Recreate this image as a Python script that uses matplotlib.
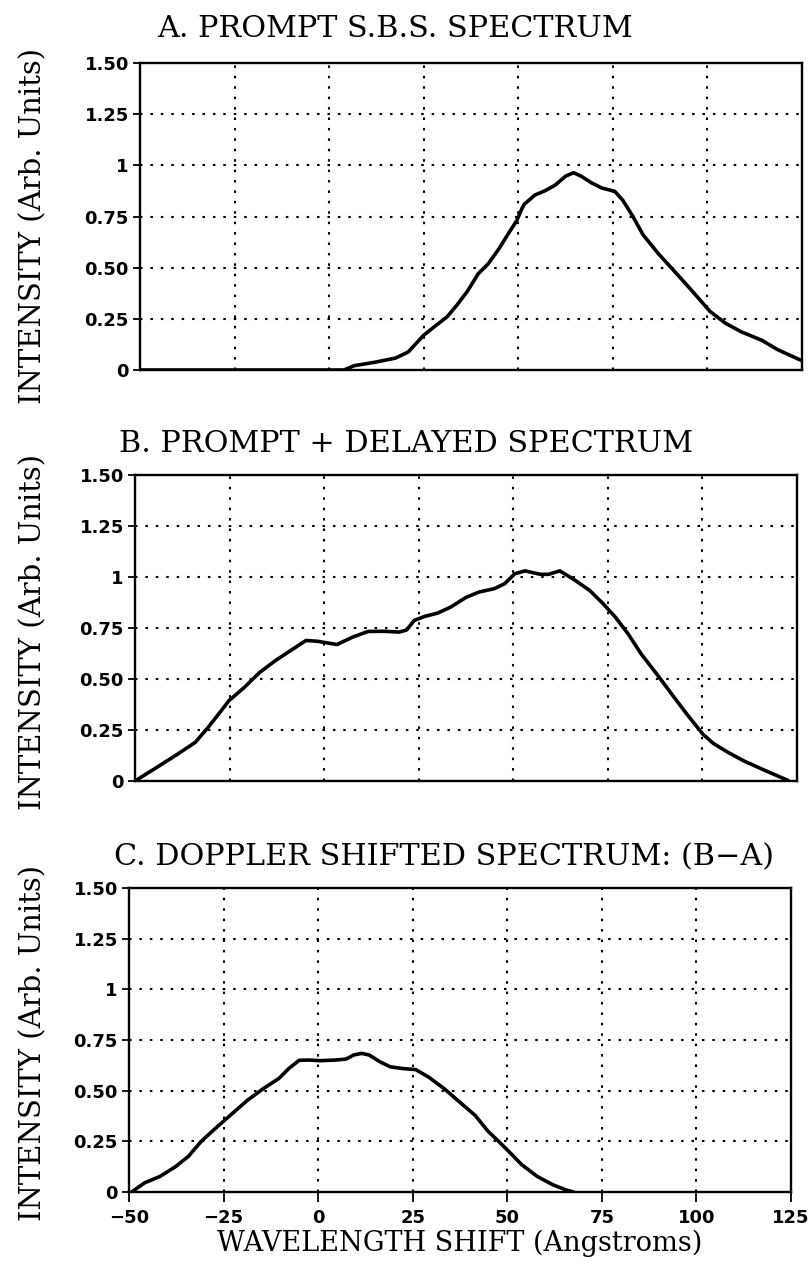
import matplotlib
matplotlib.use("Agg")
import matplotlib.pyplot as plt
from matplotlib.ticker import FixedLocator, FixedFormatter

# ---- data ----
x_a = [-50, -20, 0, 3.9, 6.6, 12.1, 17.5, 20.9, 23.0, 25.0, 28.4, 31.2, 33.9, 36.6, 39.4,
       42.1, 44.8, 47.5, 49.6, 51.0, 51.6, 54.4, 57.1, 59.8, 62.5, 64.6, 66.6, 69.4,
       72.1, 75.5, 77.6, 80.3, 83.0, 87.1, 91.2, 95.3, 100.7, 104.8, 108.9, 114.4,
       118.5, 125]
y_a = [0.0, 0.0, 0.0, 0.0, 0.021, 0.038, 0.058, 0.088, 0.13, 0.17, 0.22, 0.26, 0.32, 0.386,
       0.47, 0.52, 0.59, 0.67, 0.73, 0.79, 0.81, 0.855, 0.876, 0.904, 0.947, 0.964,
       0.947, 0.914, 0.889, 0.873, 0.83, 0.75, 0.66, 0.567, 0.484, 0.40, 0.286, 0.228,
       0.187, 0.145, 0.10, 0.045]

x_b = [-50, -44.3, -38.8, -34.1, -30.7, -27.9, -25.2, -21.1, -17.0, -12.9, -8.9, -4.8,
       -1.8, 3.4, 7.5, 11.6, 15.7, 19.8, 21.8, 23.8, 26.6, 30.0, 33.4, 37.5, 40.9, 45.0,
       47.7, 50.4, 53.1, 57.2, 59.3, 62.3, 66.1, 70.2, 73.6, 77.0, 80.4, 83.8, 87.9,
       92.0, 96.0, 100.1, 102.9, 106.9, 111.0, 116.5, 122.6]
y_b = [0.0, 0.066, 0.131, 0.189, 0.262, 0.328, 0.393, 0.459, 0.533, 0.590, 0.639, 0.689,
       0.685, 0.669, 0.705, 0.733, 0.734, 0.73, 0.74, 0.787, 0.807, 0.823, 0.852, 0.90,
       0.926, 0.943, 0.967, 1.016, 1.03, 1.013, 1.013, 1.03, 0.987, 0.934, 0.872, 0.803,
       0.72, 0.623, 0.525, 0.423, 0.325, 0.23, 0.184, 0.139, 0.098, 0.052, 0.003]

x_c = [-49.3, -45.9, -41.8, -37.7, -34.3, -30.9, -26.8, -22.7, -18.6, -14.5, -10.4, -7.7,
       -5.0, -2.2, 0.5, 4.6, 7.4, 9.4, 11.5, 13.5, 16.3, 19.0, 22.4, 25.8, 29.2, 33.3,
       37.4, 41.5, 44.9, 47.7, 50.4, 53.8, 57.9, 62.0, 65.4, 67.5]
y_c = [0.0, 0.045, 0.077, 0.125, 0.176, 0.25, 0.32, 0.387, 0.454, 0.51, 0.56, 0.61, 0.65,
       0.651, 0.648, 0.651, 0.656, 0.676, 0.684, 0.676, 0.643, 0.618, 0.609, 0.604,
       0.567, 0.51, 0.444, 0.378, 0.30, 0.25, 0.2, 0.135, 0.077, 0.036, 0.011, 0.0]

titles = ["A. PROMPT S.B.S. SPECTRUM",
          "B. PROMPT + DELAYED SPECTRUM",
          "C. DOPPLER SHIFTED SPECTRUM: (B\u2212A)"]
y_ticks = [0, 0.25, 0.5, 0.75, 1.0, 1.25, 1.5]
y_tick_labels = ["0", "0.25", "0.50", "0.75", "1", "1.25", "1.50"]
x_ticks = [-50, -25, 0, 25, 50, 75, 100, 125]
x_tick_labels = ["\u221250", "\u221225", "0", "25", "50", "75", "100", "125"]
y_label = "INTENSITY (Arb. Units)"
x_label = "WAVELENGTH SHIFT (Angstroms)"

W, H = 811, 1264
fig = plt.figure(figsize=(W / 100, H / 100), dpi=100)

# axes rectangles in pixels: left, top(1.5), right, bottom(0)
rects = [(140, 63, 802, 370), (135, 475, 797, 781), (129, 888, 791, 1192)]
title_pos = [(157, 37), (119, 452), (114, 865)]
ylab_pos = [(33, 226), (33, 632), (33, 1043)]
series = [(x_a, y_a), (x_b, y_b), (x_c, y_c)]

serif = "DejaVu Serif"
for i, ((l, t, r, b), (xs, ys)) in enumerate(zip(rects, series)):
    ax = fig.add_axes([l / W, 1 - b / H, (r - l) / W, (b - t) / H])
    ax.plot(xs, ys, color="black", lw=2.6, solid_capstyle="round", solid_joinstyle="round")
    ax.set_xlim(-50, 125)
    ax.set_ylim(0, 1.5)
    ax.yaxis.set_major_locator(FixedLocator(y_ticks))
    ax.yaxis.set_major_formatter(FixedFormatter(y_tick_labels))
    ax.xaxis.set_major_locator(FixedLocator(x_ticks))
    for yv in y_ticks[1:-1]:
        ax.axhline(yv, color="black", lw=1.5, ls=(0, (1.2, 3.8)), zorder=1)
    for xv in x_ticks[1:-1]:
        ax.axvline(xv, color="black", lw=1.5, ls=(0, (1.2, 3.8)), zorder=1)
    for s in ax.spines.values():
        s.set_linewidth(1.7)
    ax.tick_params(axis="y", direction="out", length=5, width=1.3, pad=3,
                   labelsize=13)
    for lab in ax.get_yticklabels():
        lab.set_fontweight("bold")
    if i < 2:
        ax.tick_params(axis="x", length=0, labelbottom=False)
    else:
        ax.xaxis.set_major_formatter(FixedFormatter(x_tick_labels))
        ax.tick_params(axis="x", direction="out", length=7, width=1.3, pad=5,
                       labelsize=13)
        for lab in ax.get_xticklabels():
            lab.set_fontweight("bold")
    tx, ty = title_pos[i]
    fig.text(tx / W, 1 - ty / H, titles[i], family=serif, fontsize=21.8,
             ha="left", va="baseline")
    lx, ly = ylab_pos[i]
    fig.text(lx / W, 1 - ly / H, y_label, family=serif, fontsize=21,
             rotation=90, ha="center", va="center")

fig.text(460 / W, 1 - 1243 / H, x_label, family=serif, fontsize=19.5,
         ha="center", va="center")

fig.savefig("out.png", dpi=100)
